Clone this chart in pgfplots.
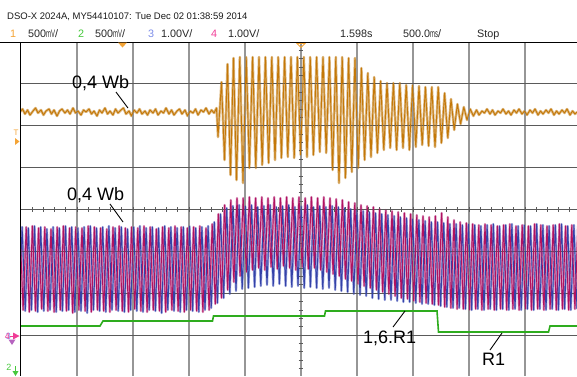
\documentclass[border=0pt]{standalone}
\usepackage{graphicx}
\usepackage{pgfplots}
\usepackage{pgfplotstable}
\pgfplotsset{compat=1.18}
\usepackage{fontspec}
\setmainfont{Liberation Sans}

% trace and label colours of the four channels
\definecolor{trOne}{RGB}{196,120,8}
\definecolor{trOneLt}{RGB}{222,186,132}
\definecolor{trTwo}{RGB}{46,172,30}
\definecolor{trThree}{RGB}{52,66,168}
\definecolor{trThreeLt}{RGB}{160,168,222}
\definecolor{trFour}{RGB}{176,18,96}
\definecolor{trFourLt}{RGB}{218,146,188}
\definecolor{lblOne}{RGB}{244,164,54}
\definecolor{lblTwo}{RGB}{70,200,60}
\definecolor{lblThree}{RGB}{124,140,232}
\definecolor{lblFour}{RGB}{240,60,150}
\definecolor{gridV}{RGB}{150,150,150}
\definecolor{gridH}{RGB}{90,90,90}

\newcommand\squeezed[1]{\scalebox{0.55}[1]{#1}}

% screen samples: column x, vertical position y (screen units, downwards)
% channel 1: flux, orange
\pgfplotstableread{
x y
20 112
22.5 109
25 114
27.5 110
30 115
33 111
35.5 108
38 113
41 110
43.5 115
46 111
49 109
51.5 114
54 110
57 116
59.5 111
62 109
65 113
67.5 110
70 114
73 108
75.5 113
78 111
81 115
83.5 110
86 112
89 109
91.5 114
94 111
97 116
99.5 110
102 113
105 108
107.5 114
110 111
113 115
115.5 109
118 113
121 110
123.5 108
126 114
129 111
131.5 116
134 110
137 113
139.5 109
142 114
145 111
147.5 115
150 110
153 113
155.5 109
158 115
161 111
163.5 113
166 108
169 114
171.5 110
174 115
177 111
179.5 109
182 114
185 110
187.5 116
190 111
193 113
195.5 109
198 115
201 110
203.5 112
206 108
209 114
211.5 110
214 113
216.5 108
218 137
221.5 82
224.5 160
227.5 64
230.5 175
233.5 58
236.5 180
239.8 57
243 183
246.2 57
249.4 168
252.6 57
255.8 168
259 57
262.2 165
265.4 57
268.6 163
271.8 57
275 160
278.2 57
281.4 158
284.6 57
287.8 157
291 57
294.2 158
297.4 57
300.6 155
303.8 57
307 157
310.2 57
313.4 155
316.6 57
319.8 152
323 57
326.2 153
329.4 57
332.6 170
335.8 57
339 183
342.2 57
345.4 178
348.6 58
351.8 172
355 58
358.2 168
361.4 68
364.6 160
367.8 73
371 157
374.2 77
377.4 153
380.6 81
383.8 150
387 83
390.2 148
393.4 83
396.6 150
399.8 83
403 148
406.2 85
409.4 150
412.6 85
415.8 147
419 86
422.2 145
425.4 87
428.6 146
431.8 87
435 147
438.2 87
441.4 143
444.6 93
447.8 138
451 99
454.2 130
457.4 104
460.6 124
463.8 107
467 120
470.2 109
473.4 116
476.5 110
479 115
482 111
484.5 113
487 109
490 114
492.5 110
495 115
498 111
500.5 113
503 109
506 114
508.5 111
511 115
514 110
516.5 113
519 109
522 114
524.5 111
527 115
530 110
532.5 113
535 109
538 115
540.5 111
543 114
546 110
548.5 113
551 109
554 115
556.5 111
559 114
562 110
564.5 113
567 109
570 115
572.5 111
575 114
577 112
}\chOne

% channel 2: load step, green
\pgfplotstableread{
x y
20 326
100 326
103 321
212.5 321
213.5 316
324.5 316
325.5 311
437 311
438.5 332
548.5 332
550 326
577 326
}\chTwo

% channel 3: blue
\pgfplotstableread{
x y
19 311
22.1 227
25.2 311
28.3 228
31.4 310
34.5 226
37.6 312
40.7 227
43.8 311
46.9 229
50 310
53.1 227
56.2 312
59.3 228
62.4 311
65.5 226
68.6 310
71.7 227
74.8 312
77.9 228
81 311
84.1 227
87.2 313
90.3 226
93.4 310
96.5 228
99.6 311
102.7 227
105.8 312
108.9 226
112 310
115.1 228
118.2 311
121.3 227
124.4 312
127.5 229
130.6 310
133.7 227
136.8 311
139.9 226
143 312
146.1 228
149.2 310
152.3 227
155.4 311
158.5 228
161.6 313
164.7 226
167.8 310
170.9 227
174 311
177.1 228
180.2 312
183.3 227
186.4 310
189.5 226
192.6 311
195.7 228
198.8 312
201.9 227
205 310
208.1 226
211.2 308
214.3 222
217.4 303
220.5 214
223.6 298
226.7 208
229.8 294
232.9 206
236 291
239.1 205
242.2 289
245.3 206
248.4 288
251.5 205
254.6 287
257.7 207
260.8 286
263.9 206
267 285
270.1 205
273.2 286
276.3 207
279.4 284
282.5 206
285.6 286
288.7 205
291.8 287
294.9 207
298 286
301.1 206
304.2 288
307.3 205
310.4 287
313.5 207
316.6 288
319.7 206
322.8 289
325.9 207
329 288
332.1 206
335.2 290
338.3 207
341.4 291
344.5 208
347.6 292
350.7 209
353.8 294
356.9 210
360 295
363.1 211
366.2 296
369.3 212
372.4 298
375.5 213
378.6 299
381.7 214
384.8 300
387.9 215
391 300
394.1 216
397.2 301
400.3 217
403.4 302
406.5 218
409.6 302
412.7 219
415.8 303
418.9 220
422 304
425.1 221
428.2 304
431.3 222
434.4 305
437.5 222
440.6 306
443.7 223
446.8 307
449.9 224
453 308
456.1 224
459.2 308
462.3 225
465.4 309
468.5 224
471.6 310
474.7 225
477.8 309
480.9 226
484 310
487.1 225
490.2 309
493.3 224
496.4 310
499.5 226
502.6 309
505.7 225
508.8 310
511.9 224
515 309
518.1 226
521.2 310
524.3 225
527.4 309
530.5 226
533.6 310
536.7 224
539.8 309
542.9 225
546 310
549.1 226
552.2 309
555.3 225
558.4 310
561.5 224
564.6 309
567.7 226
570.8 310
573.9 225
577 309
}\chThree

% channel 4: magenta
\pgfplotstableread{
x y
20 228
23.1 310
26.2 227
29.3 312
32.4 226
35.5 311
38.6 228
41.7 309
44.8 227
47.9 311
51 229
54.1 312
57.2 227
60.3 310
63.4 226
66.5 311
69.6 228
72.7 313
75.8 227
78.9 310
82 228
85.1 311
88.2 226
91.3 312
94.4 227
97.5 310
100.6 228
103.7 311
106.8 229
109.9 312
113 227
116.1 310
119.2 226
122.3 311
125.4 228
128.5 312
131.6 227
134.7 309
137.8 228
140.9 311
144 226
147.1 312
150.2 227
153.3 310
156.4 229
159.5 311
162.6 227
165.7 312
168.8 228
171.9 310
175 226
178.1 311
181.2 227
184.3 312
187.4 228
190.5 310
193.6 227
196.7 311
199.8 226
202.9 312
206 228
209.1 310
212.2 224
215.3 304
218.4 214
221.5 298
224.6 205
227.7 290
230.8 200
233.9 282
237 198
240.1 276
243.2 198
246.3 272
249.4 197
252.5 270
255.6 198
258.7 268
261.8 197
264.9 270
268 198
271.1 267
274.2 197
277.3 269
280.4 198
283.5 266
286.6 197
289.7 268
292.8 198
295.9 270
299 197
302.1 267
305.2 198
308.3 269
311.4 197
314.5 268
317.6 198
320.7 270
323.8 197
326.9 272
330 198
333.1 274
336.2 199
339.3 276
342.4 200
345.5 279
348.6 202
351.7 281
354.8 203
357.9 284
361 205
364.1 286
367.2 206
370.3 288
373.4 207
376.5 290
379.6 209
382.7 292
385.8 210
388.9 294
392 211
395.1 296
398.2 212
401.3 298
404.4 213
407.5 299
410.6 214
413.7 301
416.8 215
419.9 302
423 216
426.1 303
429.2 217
432.3 304
435.4 216
438.5 305
441.6 213
444.7 307
447.8 217
450.9 308
454 220
457.1 309
460.2 222
463.3 309
466.4 223
469.5 310
472.6 224
475.7 309
478.8 225
481.9 310
485 224
488.1 309
491.2 225
494.3 310
497.4 226
500.5 309
503.6 225
506.7 310
509.8 224
512.9 309
516 226
519.1 310
522.2 225
525.3 309
528.4 226
531.5 310
534.6 224
537.7 309
540.8 225
543.9 310
547 226
550.1 309
553.2 225
556.3 310
559.4 224
562.5 309
565.6 226
568.7 310
571.8 225
574.9 309
578 226
}\chFour

\begin{document}
\begin{tikzpicture}
\begin{axis}[
  scale only axis, width=556pt, height=334pt,
  xmin=21, xmax=577, ymin=42, ymax=376, y dir=reverse,
  axis lines=none, ticks=none, clip mode=individual,
  every axis plot/.append style={no markers, line join=round},
]
\coordinate (tl) at (axis cs:0,0);
\coordinate (br) at (axis cs:577,376);

% soft intensity band of each trace
\addplot[trThreeLt, line width=2.3pt] table {\chThree};
\addplot[trFourLt, line width=2.3pt] table {\chFour};
\addplot[trOneLt, line width=2.5pt] table {\chOne};

% graticule
\pgfplotsinvokeforeach{77,133,189,245,301,357,413,469,525}{
  \draw[gridV, line width=1.3pt] (axis cs:#1,42) -- (axis cs:#1,376);
}
\pgfplotsinvokeforeach{83.9,125.7,167.6,209.5,251.3,293.2,335.1}{
  \draw[gridH, line width=1pt] (axis cs:21,#1) -- (axis cs:577,#1);
}
\pgfplotsinvokeforeach{1,...,49}{
  \draw[gridH, line width=0.8pt] (axis cs:{21+11.2*#1},207.2) -- (axis cs:{21+11.2*#1},211.8);
}
\pgfplotsinvokeforeach{1,...,39}{
  \draw[gridH, line width=0.8pt] (axis cs:298.7,{42+8.375*#1}) -- (axis cs:303.3,{42+8.375*#1});
}

% traces
\addplot[trThree, line width=0.95pt] table {\chThree};
\addplot[trFour, line width=0.95pt] table {\chFour};
\addplot[trOne, line width=0.9pt] table {\chOne};
\addplot[trTwo, line width=1.6pt, line join=miter] table {\chTwo};

% frame
\draw[black, line width=1.4pt] (axis cs:0,42.5) -- (axis cs:577,42.5);
\draw[black, line width=1.4pt] (axis cs:20.5,42) -- (axis cs:20.5,376);

% status lines
\node[anchor=base west, inner sep=0, font=\fontsize{9.5}{10}\selectfont, text=black!90] at (axis cs:7,19) {DSO-X 2024A, MY54410107: Tue Dec 02 01:38:59 2014};
\begin{scope}[every node/.style={anchor=base west, inner sep=0, font=\fontsize{10.8}{11}\selectfont, text=black!85}]
\node[text=lblOne] at (axis cs:10,37) {1};
\node at (axis cs:28,37) {500\squeezed{mV}/};
\node[text=lblTwo] at (axis cs:78,37) {2};
\node at (axis cs:95,37) {500\squeezed{mV}/};
\node[text=lblThree] at (axis cs:148,37) {3};
\node at (axis cs:161,37) {1.00V/};
\node[text=lblFour] at (axis cs:211,37) {4};
\node at (axis cs:228,37) {1.00V/};
\node at (axis cs:340,37) {1.598s};
\node at (axis cs:403,37) {500.0\squeezed{ms}/};
\node at (axis cs:477,37) {Stop};
\end{scope}

% markers
\fill[lblOne] (axis cs:118,42.5) -- (axis cs:127,42.5) -- (axis cs:122.5,47.5) -- cycle;
\draw[lblOne, line width=0.8pt] (axis cs:297,43.5) -- (axis cs:305,43.5) -- (axis cs:301,47.5) -- cycle;
\node[anchor=base, inner sep=0, font=\fontsize{8}{8}\selectfont, text=lblOne] at (axis cs:16,135) {T};
\fill[lblOne] (axis cs:15,138) -- (axis cs:19.5,141.5) -- (axis cs:15,145) -- cycle;
\node[anchor=base, inner sep=0, font=\fontsize{9}{9}\selectfont, text=lblThree] at (axis cs:8.5,339.5) {3};
\node[anchor=base, inner sep=0, font=\fontsize{9}{9}\selectfont, text=lblFour] at (axis cs:7.5,339) {4};
\draw[lblFour, line width=1pt] (axis cs:10,336) -- (axis cs:14,336);
\fill[lblFour] (axis cs:13,332.5) -- (axis cs:19.5,336) -- (axis cs:13,339.5) -- cycle;
\fill[lblThree!50!lblFour] (axis cs:8.5,339.5) -- (axis cs:15.5,339.5) -- (axis cs:12,345) -- cycle;
\node[anchor=base, inner sep=0, font=\fontsize{9}{9}\selectfont, text=lblTwo] at (axis cs:9,370) {2};
\draw[lblTwo, line width=1pt] (axis cs:15.5,366) -- (axis cs:15.5,371);
\fill[lblTwo] (axis cs:12.5,371) -- (axis cs:18.5,371) -- (axis cs:15.5,376) -- cycle;

% annotations
\begin{scope}[every node/.style={anchor=base west, inner sep=0, font=\fontsize{18}{18}\selectfont}]
\node at (axis cs:72,88) {0,4 Wb};
\node at (axis cs:67,200) {0,4 Wb};
\node at (axis cs:363,343) {1,6.R1};
\node at (axis cs:482,365) {R1};
\end{scope}
\draw[line width=0.9pt] (axis cs:116,92) -- (axis cs:128,108);
\draw[line width=0.9pt] (axis cs:110,204) -- (axis cs:123,222);
\draw[line width=0.9pt] (axis cs:393,327) -- (axis cs:405,311);
\draw[line width=0.9pt] (axis cs:490,350) -- (axis cs:502,333);
\end{axis}
\pgfresetboundingbox
\path[use as bounding box] (tl) rectangle (br);
\end{tikzpicture}
\end{document}
